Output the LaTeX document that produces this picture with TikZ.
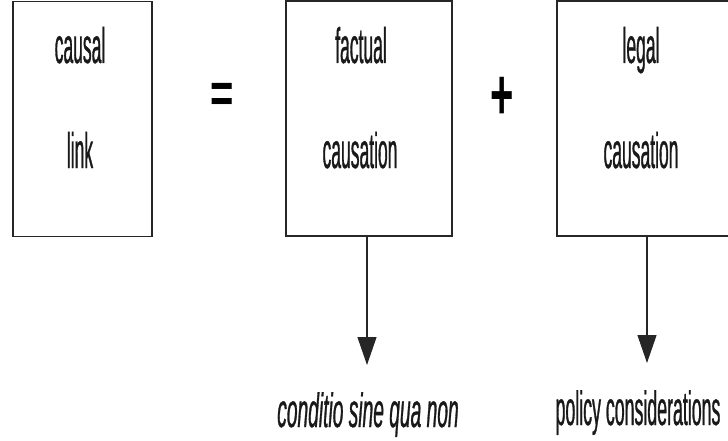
\documentclass[tikz,border=0pt]{standalone}
\usepackage{fontspec}
\usetikzlibrary{arrows.meta}
\newfontfamily\narrowfont[FakeStretch=0.35,FakeBold=0.6]{Liberation Sans}
\newfontfamily\condfont[FakeStretch=0.40,FakeBold=0.6]{Liberation Sans}
\newfontfamily\polfont[FakeStretch=0.37,FakeBold=0.6]{Liberation Sans}
\newfontfamily\symfont{Liberation Sans}
\tikzset{
  boxline/.style={draw=black!85, line width=1.6pt},
  box/.style={boxline, rectangle, inner sep=0pt},
  lbl/.style={font=\narrowfont\fontsize{50}{60}\selectfont, anchor=base, inner sep=0pt, text=black!90},
  sublbl/.style={anchor=base, inner sep=0pt, text=black!90},
  arr/.style={draw=black!85, line width=1.2pt, -{Triangle[width=19pt,length=28pt]}},
  sym/.style={font=\symfont\bfseries\fontsize{40}{44}\selectfont, inner sep=0pt}
}
\begin{document}
\begin{tikzpicture}[x=1pt,y=-1pt]
\useasboundingbox (0,0) rectangle (728,441);
\fill[white] (0,0) rectangle (728,441);
% boxes
\node[box, minimum width=139pt, minimum height=235pt] (causal) at (82.5,119) {};
\node[box, minimum width=166pt, minimum height=235pt] (factual) at (369,118.5) {};
\node[rectangle, inner sep=0pt, minimum width=173pt, minimum height=235pt] (legal) at (643.5,118.5) {};
\draw[boxline] (legal.north east) -- (legal.north west) -- (legal.south west) -- (legal.south east);
% labels
\node[lbl] (t1) at (80,63) {causal};
\node[lbl] (t2) at (80,168) {link};
\node[lbl] (t3) at (361,63) {factual};
\node[lbl] (t4) at (360,168) {causation};
\node[lbl] (t5) at (641,63) {legal};
\node[lbl] (t6) at (641,168) {causation};
% operators
\node[sym] (eq) at (222,97.5) {\scalebox{1}[1.4]{=}};
\node[sym] (plus) at (502,98) {\scalebox{1}[1.8]{+}};
% bottom texts
\node[sublbl, font=\condfont\itshape\fontsize{48}{58}\selectfont] (cond) at (368,427) {conditio sine qua non};
\node[sublbl, font=\polfont\fontsize{48}{58}\selectfont] (pol) at (638,425) {policy considerations};
% arrows
\coordinate (tip1) at (367,365);
\coordinate (tip2) at (647,363);
\draw[arr] (factual.south -| tip1) -- (tip1);
\draw[arr] (legal.south -| tip2) -- (tip2);
\end{tikzpicture}
\end{document}
